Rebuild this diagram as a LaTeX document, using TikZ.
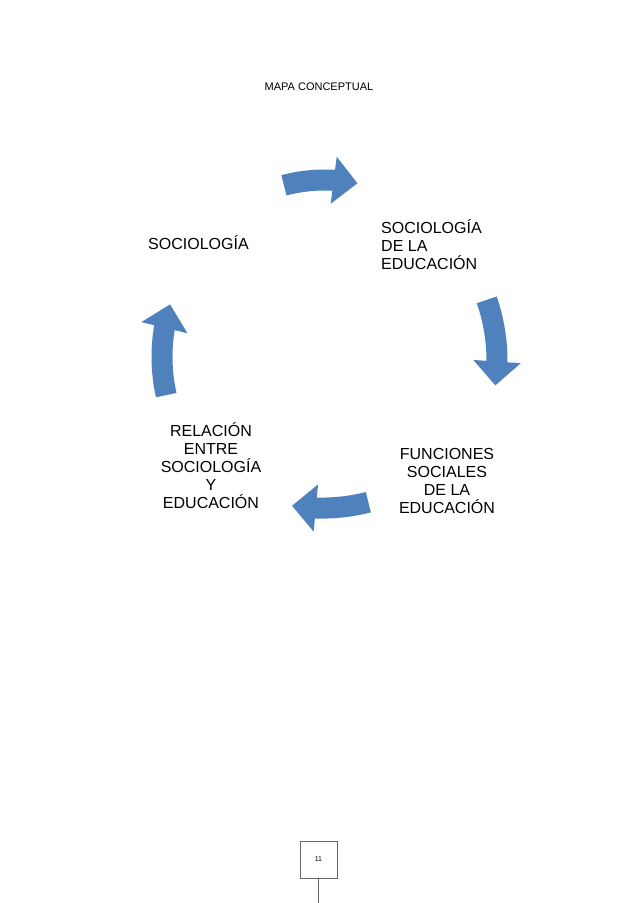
\documentclass[tikz,border=0pt]{standalone}
\usepackage{fontspec}
\setmainfont{Liberation Sans}
\usetikzlibrary{arrows.meta,bending}
\definecolor{blu}{HTML}{4F81BD}
\begin{document}
\begin{tikzpicture}[x=1pt,y=1pt,
  band/.style={blu,line width=21pt,-{Triangle[width=46pt,length=24pt,flex]}},
  lbl/.style={font=\fontsize{16}{18}\selectfont,align=center,inner sep=0pt}]
\useasboundingbox (0,0) rectangle (638,-903);
\node[font=\fontsize{11}{13}\selectfont] (title) at (319,-87) {MAPA CONCEPTUAL};
\coordinate (c) at (327,-358);
\draw[band] ([shift={(104:178)}]c) arc[start angle=104,end angle=79,x radius=170,y radius=178];
\draw[band] ([shift={(20:170)}]c) arc[start angle=20,end angle=-8,x radius=170,y radius=178];
\draw[band] ([shift={(-74:150)}]c) arc[start angle=-74,end angle=-100,x radius=170,y radius=152];
\draw[band] ([shift={(193:165)}]c) arc[start angle=193,end angle=162,x radius=165,y radius=170];
\node[lbl,anchor=west] (s) at (148,-243) {SOCIOLOGÍA};
\node[lbl,align=left,anchor=west] (sde) at (381,-245) {SOCIOLOGÍA\\DE LA\\EDUCACIÓN};
\node[lbl] (f) at (447,-481) {FUNCIONES\\SOCIALES\\DE LA\\EDUCACIÓN};
\node[lbl] (r) at (211,-466) {RELACIÓN\\ENTRE\\SOCIOLOGÍA\\Y\\EDUCACIÓN};
\node[draw=black!60,minimum size=37pt,inner sep=0pt,font=\fontsize{7}{8}\selectfont] (p) at (318.5,-859.5) {11};
\coordinate (pe) at (318.5,-903);
\draw[black!60] (p.south) -- (pe);
\end{tikzpicture}
\end{document}
